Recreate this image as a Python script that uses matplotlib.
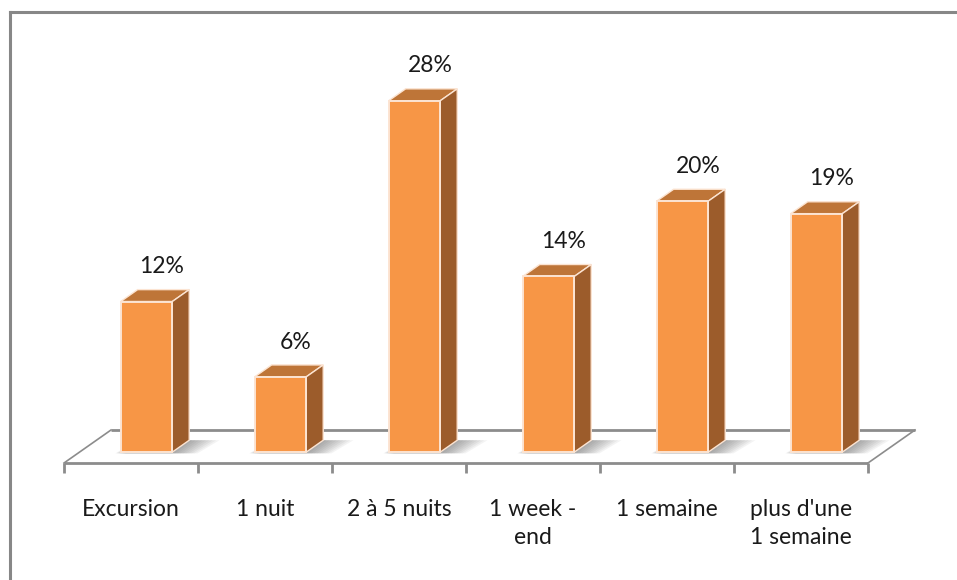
import matplotlib
matplotlib.use("Agg")
import matplotlib.pyplot as plt
from matplotlib.patches import Polygon
from matplotlib.lines import Line2D

# Durée des séjours (part des réponses, en %)
categories = ["Excursion", "1 nuit", "2 à 5 nuits", "1 week -\nend",
              "1 semaine", "plus d'une\n1 semaine"]
values = [12, 6, 28, 14, 20, 19]
value_labels = [f"{v}%" for v in values]

FRONT = "#F79646"
TOP = "#BE7538"
SIDE = "#9C5C2B"
EDGE = "#FCE4D2"
GRID = "#8C8C8C"
FONT = ["Lato", "DejaVu Sans"]
FS = 16.5

W, H, DPI = 957, 580, 100
fig = plt.figure(figsize=(W / DPI, H / DPI), dpi=DPI)
ax = fig.add_axes([0, 0, 1, 1])
ax.set_axis_off()

# pixel scale of one category / one percent
PX_X, PX_Y = 134.0, 12.55
X0, Y0 = 64, 463
ax.set_xlim(-X0 / PX_X, (W - X0) / PX_X)
ax.set_ylim(-(H - Y0) / PX_Y, Y0 / PX_Y)

# oblique projection of the depth axis
DX, DY = 47 / PX_X, 33 / PX_Y
n = len(categories)


def proj(x, y, d):
    return (x + d * DX, y + d * DY)


# floor
floor = Polygon([proj(0, 0, 0), proj(n, 0, 0), proj(n, 0, 1), proj(0, 0, 1)],
                closed=True, facecolor="white", edgecolor="none", zorder=1)
ax.add_patch(floor)
ax.plot(*zip(proj(0, 0, 0), proj(n, 0, 0)), color=GRID, lw=2, zorder=2,
        solid_capstyle="butt")
ax.plot(*zip(proj(0, 0, 1), proj(n, 0, 1)), color=GRID, lw=2, zorder=2,
        solid_capstyle="butt")
ax.plot(*zip(proj(0, 0, 0), proj(0, 0, 1)), color=GRID, lw=1.2, zorder=2)
ax.plot(*zip(proj(n, 0, 0), proj(n, 0, 1)), color=GRID, lw=1.2, zorder=2)
tick_len = 10 / PX_Y
for i in range(n + 1):
    ax.plot([i, i], [0, -tick_len], color=GRID, lw=2, zorder=2,
            solid_capstyle="butt")

# bars
D0, D1 = 0.33, 0.69
BW = 0.385
base = D0 * DY
xs = [i + 0.5 + D0 * DX for i in range(n)]
ddx, ddy = (D1 - D0) * DX, (D1 - D0) * DY

for x, v in zip(xs, values):
    xl, xr = x - BW / 2, x + BW / 2
    # soft shadow cast on the floor
    for k in range(10):
        s = k * 2.8 / PX_X
        sh = Polygon([(xl - 0.04 + s * 0.4, base - 0.1),
                      (xr + s, base - 0.1),
                      (xr + ddx + s * 1.2, base + ddy),
                      (xl + ddx, base + ddy)],
                     closed=True, facecolor="#505050", edgecolor="none",
                     alpha=0.065, zorder=3)
        ax.add_patch(sh)
    top = v + base
    ax.add_patch(Polygon([(xl, top), (xr, top), (xr + ddx, top + ddy),
                          (xl + ddx, top + ddy)], closed=True,
                         facecolor=TOP, edgecolor=EDGE, lw=1.0, zorder=4))
    ax.add_patch(Polygon([(xr, base), (xr, top), (xr + ddx, top + ddy),
                          (xr + ddx, base + ddy)], closed=True,
                         facecolor=SIDE, edgecolor=EDGE, lw=1.0, zorder=4))

ax.bar(xs, values, width=BW, bottom=base, color=FRONT, edgecolor=EDGE,
       linewidth=1.4, zorder=5)

# value labels above each bar
for x, v, lab in zip(xs, values, value_labels):
    ax.annotate(lab, (x + ddx - 1.5 / PX_X, v + base + ddy),
                xytext=(0, 16.5), textcoords="offset points",
                ha="center", va="center", fontsize=FS, family=FONT,
                color="#1a1a1a", zorder=6)

# category labels
for i, cat in enumerate(categories):
    ax.text(i + 0.5, -36 / PX_Y, cat, ha="center", va="top",
            fontsize=FS, family=FONT, color="#1a1a1a", linespacing=1.42)

# chart frame
fig.add_artist(Line2D([10 / W, 10 / W], [0, 1 - 12 / H],
                      transform=fig.transFigure, color="#878787", lw=2.2))
fig.add_artist(Line2D([10 / W, 1], [1 - 12 / H, 1 - 12 / H],
                      transform=fig.transFigure, color="#878787", lw=2.2))

fig.savefig("out.png", dpi=DPI, facecolor="white")
